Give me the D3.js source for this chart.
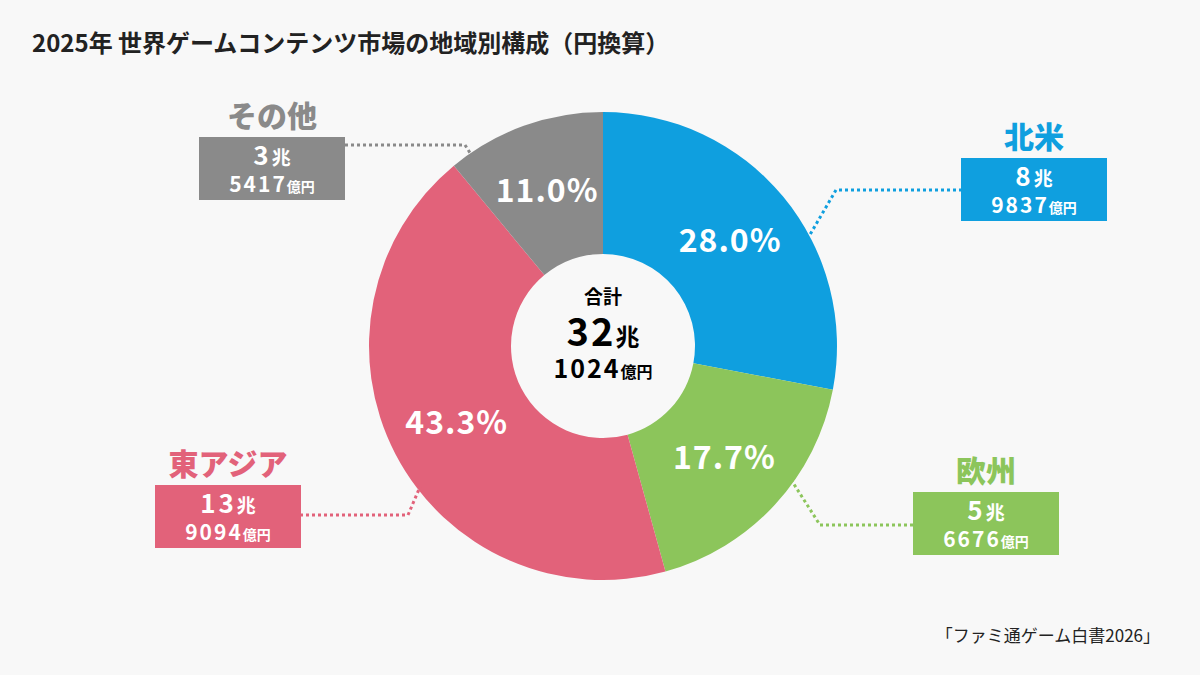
<!DOCTYPE html>
<html><head><meta charset="utf-8">
<script src="https://cdn.jsdelivr.net/npm/d3@7"></script>
<style>body{margin:0;background:#f8f8f8}text{font-family:"Noto Sans CJK JP","Noto Sans",sans-serif}</style>
</head><body><div id="chart"></div>
<script>
const regions = ["北米", "欧州", "東アジア", "その他"];
const shares = [28.0, 17.7, 43.3, 11.0];
const cho = ["8", "5", "13", "3"];
const oku = ["9837", "6676", "9094", "5417"];
const colors = ["#0f9fdf", "#8cc55b", "#e2627a", "#8a8a8a"];
// label box layout per region: box centre x, box top y, leader points
const boxes = [
  {cx: 1034, y: 158, lead: [[962, 190], [836, 190], [808, 238]]},
  {cx: 986, y: 492, lead: [[913, 525], [820, 525], [790, 478]]},
  {cx: 228, y: 485, lead: [[300, 515], [408, 515], [420, 487]]},
  {cx: 272, y: 137, lead: [[345, 145], [465, 145], [472, 156]]}
];

const w = 1200, h = 675, cx = 603, cy = 346, R = 234, r = 92;
const svg = d3.select("#chart").append("svg").attr("width", w).attr("height", h)
  .style("background", "#f8f8f8");

svg.append("text").attr("x", 32).attr("y", 52).attr("font-size", 24).attr("font-weight", 700)
  .attr("fill", "#222").text("2025年 世界ゲームコンテンツ市場の地域別構成（円換算）");

const pie = d3.pie().sort(null).value(d => d)(shares);
const arc = d3.arc().innerRadius(r).outerRadius(R);
const lab = d3.arc().innerRadius(165).outerRadius(165);
const g = svg.append("g").attr("transform", `translate(${cx},${cy})`);
g.selectAll("path").data(pie).join("path").attr("d", arc).attr("fill", (d, i) => colors[i]);
g.selectAll("text.p").data(pie).join("text").attr("class", "p")
  .attr("transform", d => `translate(${lab.centroid(d)})`)
  .attr("text-anchor", "middle").attr("dy", "0.36em").attr("letter-spacing", 1)
  .attr("font-size", 32).attr("font-weight", 700).attr("fill", "#fff")
  .text(d => d.data.toFixed(1) + "%");

g.append("text").attr("text-anchor", "middle").attr("y", -42).attr("font-size", 19).attr("font-weight", 700).text("合計");
const t = g.append("text").attr("text-anchor", "middle").attr("y", 0).attr("font-weight", 700);
t.append("tspan").attr("font-size", 38).attr("letter-spacing", 2).text("32");
t.append("tspan").attr("font-size", 24).text("兆");
const t2 = g.append("text").attr("text-anchor", "middle").attr("y", 32).attr("font-weight", 700);
t2.append("tspan").attr("font-size", 25).attr("letter-spacing", 2).text("1024");
t2.append("tspan").attr("font-size", 16).text("億円");

boxes.forEach((b, i) => {
  const bw = 146, bh = 63;
  svg.append("path").attr("d", d3.line()(b.lead)).attr("fill", "none")
    .attr("stroke", colors[i]).attr("stroke-width", 3).attr("stroke-dasharray", "3 3");
  svg.append("text").attr("x", b.cx).attr("y", b.y - 10).attr("text-anchor", "middle")
    .attr("font-size", 30).attr("font-weight", 900).attr("fill", colors[i]).text(regions[i]);
  svg.append("rect").attr("x", b.cx - bw / 2).attr("y", b.y).attr("width", bw).attr("height", bh).attr("fill", colors[i]);
  const a = svg.append("text").attr("x", b.cx).attr("y", b.y + 28).attr("text-anchor", "middle")
    .attr("font-weight", 700).attr("fill", "#fff");
  a.append("tspan").attr("font-size", 26).attr("letter-spacing", 3).text(cho[i]);
  a.append("tspan").attr("font-size", 19).text("兆");
  const c = svg.append("text").attr("x", b.cx).attr("y", b.y + 55).attr("text-anchor", "middle")
    .attr("font-weight", 700).attr("fill", "#fff");
  c.append("tspan").attr("font-size", 21).attr("letter-spacing", 2).text(oku[i]);
  c.append("tspan").attr("font-size", 14).text("億円");
});

svg.append("text").attr("x", 1160).attr("y", 642).attr("text-anchor", "end").attr("font-size", 17)
  .attr("fill", "#222").text("「ファミ通ゲーム白書2026」");
</script></body></html>
